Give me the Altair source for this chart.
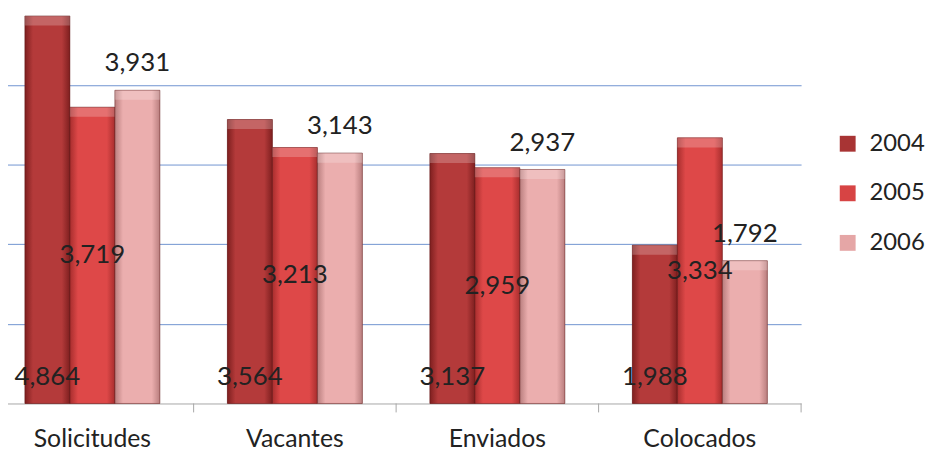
import altair as alt
import pandas as pd

categories = ["Solicitudes", "Vacantes", "Enviados", "Colocados"]
series = ["2004", "2005", "2006"]
v2004 = [4864, 3564, 3137, 1988]
v2005 = [3719, 3213, 2959, 3334]
v2006 = [3931, 3143, 2937, 1792]

base_colors = ["#A83434", "#D74444", "#E5A6A6"]
edge_colors = ["#7E1F1F", "#A82E2E", "#B97E7E"]
mid_colors = ["#B43A3A", "#DE4848", "#EBAEAE"]

rows = []
for s, vals in zip(series, [v2004, v2005, v2006]):
    for c, v in zip(categories, vals):
        rows.append({"cat": c, "year": s, "value": v})
df = pd.DataFrame(rows)
cat_df = pd.DataFrame({"cat": categories})

FONT = "Lato"
TXT = "#222222"
AXC = "#A6A6A6"
X_RANGE = [-17, 800]

x_enc = alt.X(
    "cat:N",
    sort=categories,
    scale=alt.Scale(range=X_RANGE, paddingInner=1 / 3, paddingOuter=1 / 6),
    axis=alt.Axis(
        title=None,
        labelAngle=0,
        labelFont=FONT,
        labelFontSize=25,
        labelColor=TXT,
        labelPadding=23,
        domainColor=AXC,
        ticks=False,
        grid=False,
    ),
)
xo_enc = alt.XOffset("year:N", sort=series)
y_scale = alt.Scale(domain=[0, 4940], nice=False)
y_enc = alt.Y(
    "value:Q",
    scale=y_scale,
    axis=alt.Axis(
        title=None,
        labels=False,
        ticks=False,
        domain=False,
        values=[1000, 2000, 3000, 4000],
        gridColor="#7094D0",
        gridWidth=1,
    ),
)

base = alt.Chart(df)

bars = base.mark_bar().encode(
    x=x_enc,
    xOffset=xo_enc,
    y=y_enc,
    color=alt.Color(
        "year:N",
        sort=series,
        scale=alt.Scale(domain=series, range=base_colors),
        legend=alt.Legend(
            title=None,
            orient="none",
            legendX=835,
            legendY=123,
            symbolType="square",
            symbolSize=256,
            symbolStrokeWidth=0,
            labelFont=FONT,
            labelFontSize=24,
            labelColor=TXT,
            labelOffset=10,
            rowPadding=26,
            padding=0,
        ),
    ),
)

layers = [bars]
for s, e, m in zip(series, edge_colors, mid_colors):
    grad = alt.LinearGradient(
        gradient="linear",
        x1=0, x2=1, y1=0, y2=0,
        stops=[
            alt.GradientStop(color=e, offset=0),
            alt.GradientStop(color=m, offset=0.18),
            alt.GradientStop(color=m, offset=0.82),
            alt.GradientStop(color=e, offset=1),
        ],
    )
    layers.append(
        base.transform_filter(alt.datum.year == s)
        .mark_bar(color=grad, stroke="#5A1515", strokeOpacity=0.5, strokeWidth=1)
        .encode(x=alt.X("cat:N", sort=categories), xOffset=xo_enc, y=alt.Y("value:Q"))
    )
    # top bevel highlight
    layers.append(
        base.transform_filter(alt.datum.year == s)
        .transform_calculate(top2="datum.value - 120")
        .mark_bar(color="#FFFFFF", opacity=0.22)
        .encode(x=alt.X("cat:N", sort=categories), xOffset=xo_enc, y=alt.Y("value:Q"), y2="top2:Q")
    )

text_common = dict(font=FONT, fontSize=26, color=TXT, baseline="middle", align="center")

t2004 = (
    base.transform_filter(alt.datum.year == "2004")
    .transform_calculate(pos="0")
    .mark_text(dy=-27, **text_common)
    .encode(x=alt.X("cat:N", sort=categories), xOffset=xo_enc, y=alt.Y("pos:Q"), text=alt.Text("value:Q", format=","))
)
t2005 = (
    base.transform_filter(alt.datum.year == "2005")
    .transform_calculate(pos="datum.value / 2")
    .mark_text(**text_common)
    .encode(x=alt.X("cat:N", sort=categories), xOffset=xo_enc, y=alt.Y("pos:Q"), text=alt.Text("value:Q", format=","))
)
t2006 = (
    base.transform_filter(alt.datum.year == "2006")
    .mark_text(dy=-27, **text_common)
    .encode(x=alt.X("cat:N", sort=categories), xOffset=xo_enc, y=alt.Y("value:Q"), text=alt.Text("value:Q", format=","))
)

main = alt.layer(*layers, t2004, t2005, t2006)

# category separator ticks (between groups), on a step-wide band scale
ticks = (
    alt.Chart(cat_df)
    .mark_rule(color=AXC, strokeWidth=1)
    .encode(
        x=alt.X(
            "cat:N",
            sort=categories,
            bandPosition=1,
            scale=alt.Scale(range=X_RANGE, paddingInner=0, paddingOuter=0),
            axis=None,
        ),
        y=alt.value(397),
        y2=alt.value(406),
    )
)

chart = (
    alt.layer(main, ticks)
    .resolve_scale(x="independent")
    .properties(
        width=799,
        height=397,
        padding={"left": 0, "top": 0, "right": 128, "bottom": 44},
        autosize=alt.AutoSizeParams(type="none"),
        background="#FFFFFF",
    )
    .configure_view(stroke=None)
)

chart.save("out.html", embed_options={"renderer": "svg", "actions": False})
